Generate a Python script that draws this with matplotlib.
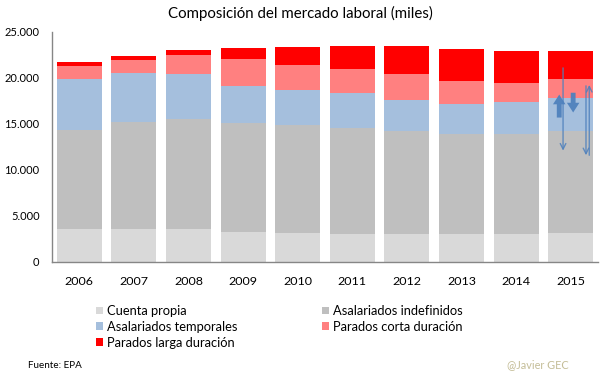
import numpy as np
import matplotlib.pyplot as plt
from matplotlib.patches import Patch
from matplotlib.colors import to_rgb
from matplotlib.ticker import FuncFormatter

plt.rcParams.update({
    "font.family": ["Lato", "DejaVu Sans"],
    "axes.linewidth": 1.0,
})

# ------------------------------------------------------------
# datos (miles de personas)
# ------------------------------------------------------------
anios = ["2006", "2007", "2008", "2009", "2010", "2011", "2012", "2013", "2014", "2015"]
cuenta_propia = [3600, 3600, 3600, 3280, 3190, 3080, 3040, 3040, 3040, 3150]
indefinidos = [10750, 11650, 11950, 11790, 11670, 11485, 11200, 10870, 10870, 11090]
temporales = [5550, 5250, 4900, 4060, 3840, 3805, 3370, 3300, 3480, 3590]
corta = [1400, 1450, 2050, 2930, 2720, 2610, 2830, 2460, 2070, 2065]
larga = [450, 450, 500, 1200, 1960, 2500, 3040, 3480, 3480, 3045]

nombres = ["Cuenta propia", "Asalariados indefinidos", "Asalariados temporales",
           "Parados corta duración", "Parados larga duración"]
titulo = "Composición del mercado laboral (miles)"

# ------------------------------------------------------------
# colores (las tramas de Excel se aproximan con el tono medio)
# ------------------------------------------------------------
mezcla = lambda c: tuple((np.array(to_rgb(c)) + 1) / 2)
gris_claro = "#D9D9D9"
gris = "#BFBFBF"
azul_trama = mezcla("#4A7EBB")
rojo_trama = mezcla("#FF0000")
rojo = "#FF0000"
flechas = "#4F81BD"
colores = [gris_claro, gris, azul_trama, rojo_trama, rojo]

W, H = 605, 378
fig = plt.figure(figsize=(W / 100, H / 100), dpi=100)
ax = fig.add_axes([52 / W, 116 / H, 546 / W, 230 / H])

fig.canvas.draw()
rend = fig.canvas.get_renderer()

def tam(texto, ancho_px, base=10):
    # tamaño de letra para que el texto mida ancho_px píxeles
    t = fig.text(0, 0, texto, fontsize=base)
    w = t.get_window_extent(rend).width
    t.remove()
    return base * ancho_px / w

# ------------------------------------------------------------
# barras apiladas
# ------------------------------------------------------------
x = np.arange(len(anios))
ancho = 0.825
base = np.zeros(len(anios))
for valores, color in zip([cuenta_propia, indefinidos, temporales, corta, larga], colores):
    ax.bar(x, valores, ancho, bottom=base, color=color, linewidth=0)
    base += valores

ax.set_xlim(-0.5, len(anios) - 0.5)
ax.set_ylim(0, 25000)
ax.set_yticks(np.arange(0, 25001, 5000))
ax.yaxis.set_major_formatter(FuncFormatter(lambda v, p: f"{int(v):,}".replace(",", ".")))
ax.set_xticks(x)
ax.set_xticklabels(anios)
ax.tick_params(axis="both", length=0, colors="black")
ax.tick_params(axis="x", pad=10, labelsize=tam("2006", 29))
ax.tick_params(axis="y", pad=9, labelsize=tam("25.000", 35))
for lado in ["top", "right"]:
    ax.spines[lado].set_visible(False)
for lado in ["left", "bottom"]:
    ax.spines[lado].set_color("#868686")

# flechas dibujadas a mano en 2015
kw_fino = dict(arrowstyle="->", color=flechas, lw=1.0, alpha=0.85)
kw_grueso = dict(arrowstyle="simple,head_width=0.9,head_length=0.7,tail_width=0.35",
                 color=flechas, lw=0, alpha=0.95)
ax.annotate("", xy=(8.79, 18500), xytext=(8.79, 15400), arrowprops=kw_grueso, zorder=5)
ax.annotate("", xy=(9.045, 15950), xytext=(9.045, 18700), arrowprops=kw_grueso, zorder=5)
ax.annotate("", xy=(8.86, 11800), xytext=(8.86, 21400), arrowprops=kw_fino, zorder=5)
ax.annotate("", xy=(9.28, 11300), xytext=(9.28, 19450), arrowprops=kw_fino, zorder=5)
ax.annotate("", xy=(9.34, 19550), xytext=(9.34, 11300), arrowprops=kw_fino, zorder=5)

fig.text(300.5 / W, 1 - 13 / H, titulo, ha="center", va="center",
         fontsize=tam(titulo, 265))

# ------------------------------------------------------------
# leyenda en dos columnas (orden por filas, como en Excel)
# ------------------------------------------------------------
fs = tam("Asalariados indefinidos", 131)
px_fs = fs * 100 / 72  # píxeles por unidad de fontsize
t = fig.text(0, 0, "Asalariados temporales", fontsize=fs)
ancho_col1 = t.get_window_extent(rend).width
t.remove()
hueco = 322 - (96 + 7 + 4 + ancho_col1)

orden = [0, 2, 4, 1, 3]
fig.legend([Patch(facecolor=colores[i]) for i in orden], [nombres[i] for i in orden],
           loc="upper left", bbox_to_anchor=(96 / W, 1 - 305 / H), ncol=2,
           frameon=False, fontsize=fs, handlelength=7 / px_fs, handleheight=7 / px_fs,
           handletextpad=4 / px_fs, columnspacing=hueco / px_fs, labelspacing=0.3,
           borderpad=0, borderaxespad=0)

fig.text(28 / W, 1 - 366 / H, "Fuente: EPA", fontsize=tam("Fuente: EPA", 54), va="center")
fig.text(507 / W, 1 - 365 / H, "@Javier GEC", fontsize=tam("@Javier GEC", 61),
         va="center", color="#C4BD97")

fig.savefig("out.png", dpi=100)
